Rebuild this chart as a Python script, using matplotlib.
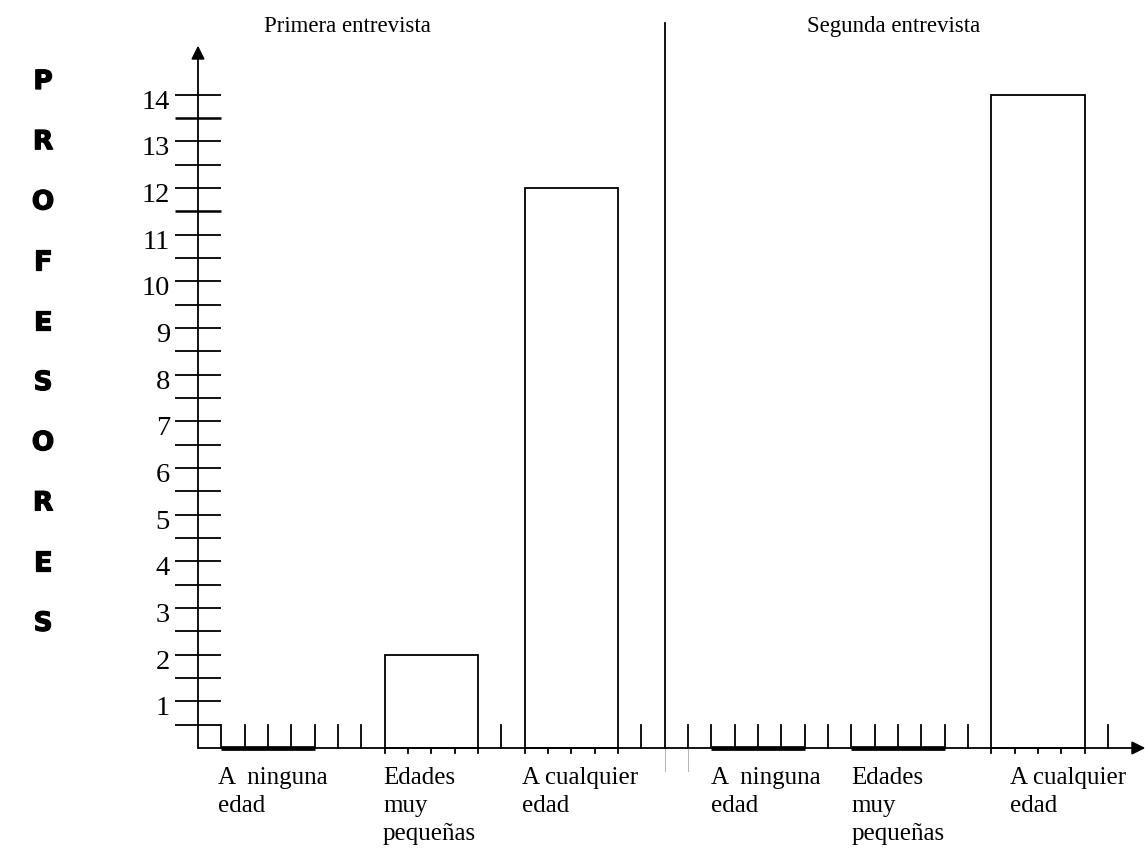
import numpy as np
import matplotlib
matplotlib.use("Agg")
import matplotlib.pyplot as plt
import matplotlib.patheffects as pe

# data
categories = ["A  ninguna\nedad", "Edades\nmuy\npequeñas", "A cualquier\nedad"]
primera = [0, 2, 12]
segunda = [0, 0, 14]
panel_titles = ["Primera entrevista", "Segunda entrevista"]
ylabel_letters = list("PROFESORES")
yticks = list(range(1, 15))

# layout (slot units on x, counts on y)
starts = [[1, 8, 14], [22, 28, 34]]
label_x = [[0.86, 7.93, 13.89], [21.99, 27.99, 34.8]]
title_x = [6.4, 29.8]
BAR_W = 4
DIVIDER = 20
N_SLOTS = 39

PX, PY = 23.333, 46.667          # pixels per unit
W, H = 1145, 855
X0, Y0 = 198, 748                # origin in pixels (from left, from top)

SERIF = "Liberation Serif"

fig = plt.figure(figsize=(W / 100, H / 100), dpi=100)
ax = fig.add_axes([0, 0, 1, 1])
ax.axis("off")
ax.set_xlim(-X0 / PX, (W - X0) / PX)
ax.set_ylim(-(H - Y0) / PY, Y0 / PY)

lw = 1.3
# axes with arrows
arrow = dict(arrowstyle="-|>", lw=lw, color="k", mutation_scale=20, shrinkA=0, shrinkB=0)
ax.annotate("", xy=(0, 15.05), xytext=(0, 0), arrowprops=arrow)
ax.annotate("", xy=(40.6, 0), xytext=(0, 0), arrowprops=arrow)

# y ticks every half unit
for v in np.arange(0.5, max(yticks) + 0.01, 0.5):
    thick = v in (11.5, 13.5)
    ax.plot([-1, 1], [v, v], color="k", lw=1.8 if thick else lw, solid_capstyle="butt")
for v in yticks:
    ax.text(-1.2, v - 0.3, str(v), ha="right", va="baseline",
            fontsize=20.5, family=SERIF)

# bars
bars = []
for s_list, vals in zip(starts, [primera, segunda]):
    for s, v in zip(s_list, vals):
        bars.append((s, v))
        if v > 0:
            ax.bar(s, v, width=BAR_W, align="edge", fill=False, edgecolor="k", lw=lw)
        else:
            ax.hlines(0, s, s + BAR_W, color="k", lw=3.4)

# x ticks
for p in range(1, N_SLOTS + 1):
    inside = any(s < p < s + BAR_W and v > 0 for s, v in bars)
    edge = any(p in (s, s + BAR_W) and v > 0 for s, v in bars)
    if inside or edge:
        ax.plot([p, p], [0, -0.11], color="k", lw=lw)
    elif p == DIVIDER:
        continue
    else:
        ax.plot([p, p], [0, 0.5], color="k", lw=lw)

# divider between the two interviews
ax.plot([DIVIDER, DIVIDER], [0, 15.53], color="k", lw=lw)
for xg in (DIVIDER, DIVIDER + 1):
    ax.plot([xg, xg], [0, -0.5], color="0.65", lw=0.6)

# category labels
for xs in label_x:
    for xl, lab in zip(xs, categories):
        ax.text(xl, -0.4, lab, ha="left", va="top", fontsize=18, family=SERIF,
                linespacing=1.37)

# panel titles
for xt, t in zip(title_x, panel_titles):
    ax.text(xt, 15.34, t, ha="center", va="baseline", fontsize=16.5, family=SERIF)

# vertical letter label
for i, ch in enumerate(ylabel_letters):
    yc = (Y0 - (82 + 60.2 * i)) / PY
    ax.text(-6.64, yc, ch, ha="center", va="center", fontsize=19,
            family="DejaVu Sans", fontweight="heavy",
            path_effects=[pe.withStroke(linewidth=0.9, foreground="k")])

fig.savefig("out.png", dpi=100)
